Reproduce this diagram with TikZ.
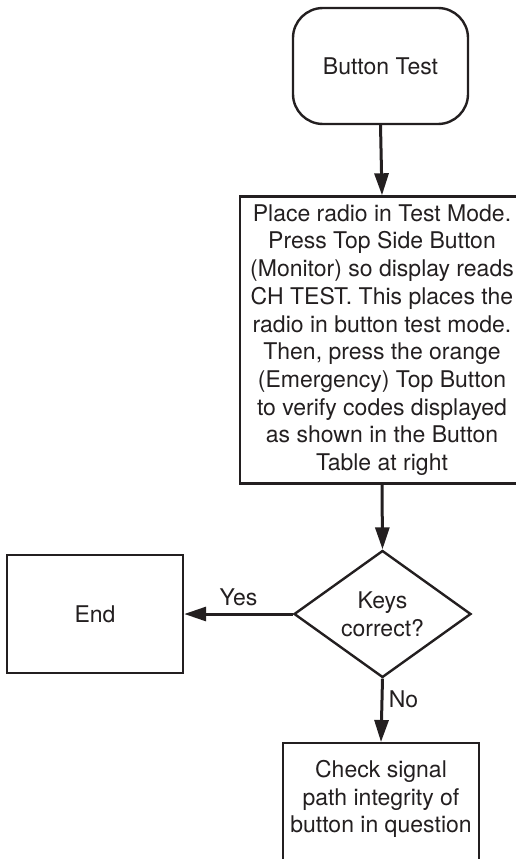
\documentclass[tikz,border=0pt]{standalone}
\usepackage{fontspec}
\setmainfont{TeX Gyre Heros}
\usetikzlibrary{shapes.geometric,arrows.meta}
\definecolor{ink}{HTML}{231F20}
\tikzset{
  every node/.style={font=\fontsize{23}{27.7}\selectfont, text=ink},
  boxshape/.style={draw=ink, line width=2.4pt, rectangle, inner sep=0pt, align=center},
  flow/.style={draw=ink, line width=3pt, -{Triangle[length=22pt,width=14pt]}},
}
\begin{document}
\begin{tikzpicture}[x=1pt,y=1pt]
\useasboundingbox (0,0) rectangle (515,-859);
\node[boxshape, rounded corners=30pt, minimum width=175pt, minimum height=116pt] (start) at (380.5,-66) {Button Test};
\node[boxshape, minimum width=284pt, minimum height=287pt] (main) at (382,-340) {Place radio in Test Mode.\\Press Top Side Button\\(Monitor) so display reads\\CH TEST. This places the\\radio in button test mode.\\Then, press the orange\\(Emergency) Top Button\\to verify codes displayed\\as shown in the Button\\Table at right};
\node[draw=ink, line width=2.4pt, diamond, aspect=1.39, minimum width=177pt, minimum height=127pt, inner sep=0pt, align=center] (dec) at (382.5,-614) {Keys\\correct?};
\node[boxshape, minimum width=176pt, minimum height=118pt] (end) at (95,-614) {End};
\node[boxshape, anchor=north, minimum width=196pt, minimum height=130pt] (check) at (381,-742) {};
\node[align=center] (checktxt) at (381,-799) {Check signal\\path integrity of\\button in question};
\draw[flow] (start.south) -- (main.north);
\draw[flow] (main.south) -- (dec.north);
\draw[flow] (dec.west) -- node[above=3pt] (yes) {Yes} (end.east);
\draw[flow] (dec.south) -- node[right=2pt, pos=0.32] (no) {No} (check.north);
\end{tikzpicture}
\end{document}
